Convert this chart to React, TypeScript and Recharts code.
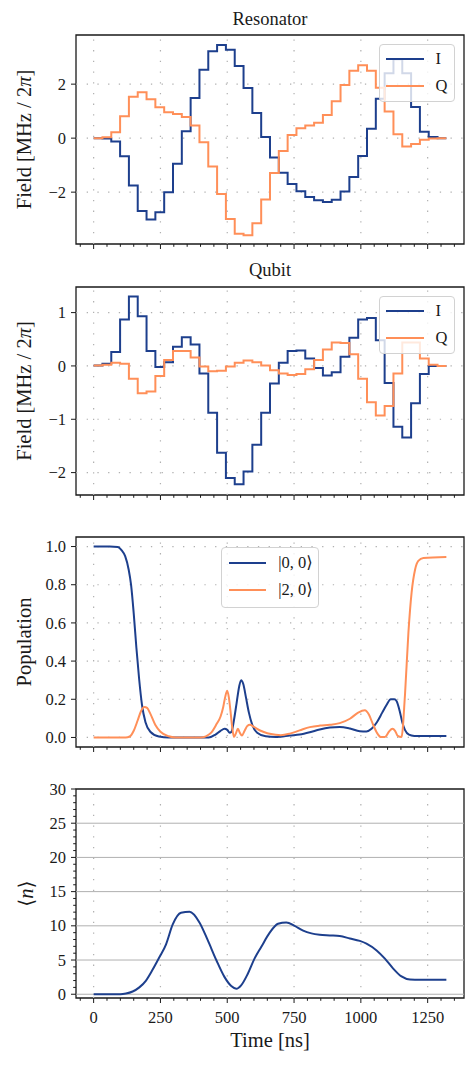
import React from 'react';
import { LineChart, Line, XAxis, YAxis, ReferenceLine, ReferenceArea, Legend } from 'recharts';

const SERIF = '"Liberation Serif", "DejaVu Serif", serif';
const BLUE = '#1d3f8d';
const ORANGE = '#ff8f58';
const INK = '#1a1a1a';
const GRID = '#b0b0b0';

// pulse is 40 constant slices, 33 ns each
const SLICE_START_NS = [
  0, 33, 66, 99, 132, 165, 198, 231, 264, 297, 330, 363, 396, 429, 462, 495, 528, 561, 594, 627,
  660, 693, 726, 759, 792, 825, 858, 891, 924, 957, 990, 1023, 1056, 1089, 1122, 1155, 1188, 1221, 1254, 1287,
];
const PULSE_END_NS = 1320;

const RES_I = [
  0, -0.01, -0.12, -0.67, -1.75, -2.7, -3.01, -2.74, -2.0, -0.95, 0.26, 1.49, 2.53, 3.22, 3.45, 3.27, 2.67, 1.86, 0.93, 0.04,
  -0.72, -1.28, -1.7, -1.97, -2.18, -2.3, -2.36, -2.28, -1.98, -1.44, -0.66, 0.35, 1.46, 2.4, 2.92, 2.4, 1.15, 0.24, 0.04, 0,
];
const RES_Q = [
  0, 0.03, 0.22, 0.81, 1.53, 1.7, 1.44, 1.14, 0.96, 0.89, 0.78, 0.47, -0.15, -1.05, -2.07, -2.99, -3.54, -3.6, -3.15, -2.27,
  -1.29, -0.48, 0.12, 0.37, 0.47, 0.57, 0.86, 1.37, 1.97, 2.5, 2.7, 2.5, 1.87, 0.99, 0.14, -0.31, -0.22, -0.06, -0.01, 0,
];
const QUB_I = [
  0.01, 0.04, 0.26, 0.87, 1.3, 0.93, 0.28, -0.02, 0.07, 0.36, 0.54, 0.4, -0.14, -0.88, -1.63, -2.1, -2.22, -1.98, -1.48, -0.88,
  -0.33, 0.06, 0.28, 0.29, 0.14, -0.04, -0.18, -0.12, 0.17, 0.53, 0.87, 0.9, 0.48, -0.32, -1.14, -1.34, -0.7, -0.15, 0, 0,
];
const QUB_Q = [
  0.01, 0.02, 0.06, 0.04, -0.24, -0.51, -0.48, -0.19, 0.11, 0.28, 0.28, 0.16, -0.01, -0.1, -0.09, -0.01, 0.06, 0.1, 0.07, 0.01,
  -0.08, -0.14, -0.17, -0.15, -0.06, 0.11, 0.31, 0.44, 0.43, 0.22, -0.24, -0.68, -0.93, -0.75, -0.14, 0.44, 0.44, 0.14, 0.02, 0,
];

const POP00_T = [
  0, 60, 90, 105, 118, 131, 140, 150, 160, 170, 181, 194, 212, 244, 281, 431, 456, 475, 490, 500,
  509, 516, 525, 535, 545, 552, 560, 570, 581, 594, 612, 644, 681, 700, 734, 771, 809, 846, 884, 921,
  959, 996, 1021, 1040, 1060, 1080, 1096, 1112, 1125, 1134, 1145, 1155, 1165, 1180, 1200, 1234, 1320,
];
const POP00_V = [
  1.0, 1.0, 0.998, 0.98, 0.95, 0.88, 0.8, 0.65, 0.47, 0.31, 0.17, 0.08, 0.03, 0.005, 0, 0, 0.015, 0.035, 0.045, 0.04,
  0.025, 0.03, 0.09, 0.18, 0.27, 0.3, 0.28, 0.21, 0.13, 0.065, 0.025, 0.006, 0.002, 0.004, 0.01, 0.015, 0.027, 0.042, 0.052, 0.055,
  0.047, 0.033, 0.031, 0.045, 0.08, 0.13, 0.17, 0.2, 0.2, 0.19, 0.14, 0.08, 0.04, 0.015, 0.008, 0.007, 0.007,
];
const POP20_T = [
  0, 120, 135, 150, 165, 178, 190, 200, 212, 231, 250, 281, 306, 400, 420, 440, 460, 475, 485, 492,
  500, 506, 512, 518, 525, 532, 540, 547, 555, 565, 575, 585, 600, 625, 650, 681, 700, 734, 771, 809,
  846, 884, 921, 959, 990, 1015, 1030, 1045, 1060, 1075, 1090, 1105, 1118, 1128, 1138, 1152, 1165, 1178, 1190, 1203,
  1215, 1234, 1320,
];
const POP20_V = [
  0, 0, 0.005, 0.035, 0.09, 0.14, 0.16, 0.155, 0.125, 0.065, 0.03, 0.006, 0, 0, 0.006, 0.025, 0.07, 0.11, 0.16, 0.21,
  0.245, 0.21, 0.14, 0.06, 0.003, 0.02, 0.045, 0.025, 0.01, 0.035, 0.06, 0.066, 0.055, 0.035, 0.022, 0.014, 0.012, 0.02, 0.037, 0.054,
  0.062, 0.066, 0.075, 0.098, 0.13, 0.142, 0.12, 0.07, 0.025, 0.002, 0.002, 0.03, 0.045, 0.035, 0.008, 0.002, 0.22, 0.55, 0.76, 0.88,
  0.925, 0.94, 0.945,
];

const NBAR_T = [
  0, 100, 121, 146, 171, 196, 221, 246, 271, 296, 327, 359, 396, 427, 459, 490, 515, 534, 552, 577,
  602, 627, 659, 690, 721, 752, 784, 815, 846, 884, 921, 959, 996, 1021, 1059, 1090, 1121, 1152, 1184, 1221, 1320,
];
const NBAR_V = [
  0, 0, 0.1, 0.4, 1.0, 2.0, 3.6, 5.4, 7.3, 10.2, 11.9, 12.05, 10.5, 7.9, 5.0, 2.5, 1.2, 0.8, 1.3, 3.0,
  5.2, 6.9, 9.0, 10.3, 10.5, 10.0, 9.3, 8.9, 8.7, 8.6, 8.5, 8.15, 7.8, 7.4, 6.4, 5.2, 3.75, 2.6, 2.15, 2.1, 2.1,
];

const TIME_DOMAIN = [-66, 1386];
const TIME_MAJOR = [0, 250, 500, 750, 1000, 1250];
const TIME_TICKS = [
  -50, 0, 50, 100, 150, 200, 250, 300, 350, 400, 450, 500, 550, 600, 650, 700, 750, 800, 850, 900,
  950, 1000, 1050, 1100, 1150, 1200, 1250, 1300, 1350,
];
const RES_TICKS = [-2, 0, 2];
const QUB_TICKS = [-2, -1, 0, 1];
const POP_TICKS = [0, 0.2, 0.4, 0.6, 0.8, 1.0];
const NBAR_MAJOR = [0, 5, 10, 15, 20, 25, 30];
const NBAR_TICKS = [
  0, 1, 2, 3, 4, 5, 6, 7, 8, 9, 10, 11, 12, 13, 14, 15, 16, 17, 18, 19, 20, 21, 22, 23, 24, 25, 26, 27, 28, 29, 30,
];

const stepRows = (i: number[], q: number[]) => [
  ...SLICE_START_NS.map((t, k) => ({ t, I: i[k], Q: q[k] })),
  { t: PULSE_END_NS, I: i[i.length - 1], Q: q[q.length - 1] },
];
const curveRows = (ts: number[], vs: number[]) => ts.map((t, k) => ({ t, v: vs[k] }));

const signed = (v: number) => (v < 0 ? `\u2212${Math.abs(v)}` : `${v}`);

const TimeTick = (props: any) => {
  const { x, y, payload, showLabel } = props;
  const major = TIME_MAJOR.includes(payload.value);
  return (
    <g>
      <line x1={x} x2={x} y1={y} y2={y + (major ? 5 : 2.8)} stroke={INK} strokeWidth={1} />
      {showLabel && major && (
        <text x={x} y={y + 25} textAnchor="middle" fontFamily={SERIF} fontSize={16.5} fill={INK}>
          {payload.value}
        </text>
      )}
    </g>
  );
};

const ValueTick = (props: any) => {
  const { x, y, payload, major, fmt } = props;
  const isMajor = major.includes(payload.value);
  return (
    <g>
      <line x1={x} x2={x - (isMajor ? 5 : 2.8)} y1={y} y2={y} stroke={INK} strokeWidth={1} />
      {isMajor && (
        <text x={x - 10} y={y} dy="0.34em" textAnchor="end" fontFamily={SERIF} fontSize={16.5} fill={INK}>
          {fmt(payload.value)}
        </text>
      )}
    </g>
  );
};

const YTitle = (props: any) => {
  const { viewBox, baseX, node } = props;
  const cy = viewBox.y + viewBox.height / 2;
  return (
    <text
      x={baseX}
      y={cy}
      transform={`rotate(-90 ${baseX} ${cy})`}
      textAnchor="middle"
      fontFamily={SERIF}
      fontSize={20.5}
      fill={INK}
    >
      {node}
    </text>
  );
};

const XTitle = (props: any) => {
  const { viewBox } = props;
  return (
    <text
      x={viewBox.x + viewBox.width / 2}
      y={viewBox.y + 49}
      textAnchor="middle"
      fontFamily={SERIF}
      fontSize={20.5}
      fill={INK}
    >
      Time [ns]
    </text>
  );
};

const LegendBox = (props: any) => {
  const { payload, w, h, lineLeft, lineLen, textLeft, rowTop, rowGap } = props;
  return (
    <div
      style={{
        position: 'relative',
        width: w,
        height: h,
        boxSizing: 'border-box',
        background: 'rgba(255,255,255,0.8)',
        border: '1px solid #d2d2d2',
        borderRadius: 4,
      }}
    >
      {(payload || []).map((p: any, i: number) => {
        const cy = rowTop + i * rowGap;
        return (
          <React.Fragment key={i}>
            <div style={{ position: 'absolute', left: lineLeft, top: cy - 1, width: lineLen, height: 2, background: p.color }} />
            <div
              style={{
                position: 'absolute',
                left: textLeft,
                top: cy - 10,
                height: 20,
                lineHeight: '20px',
                fontFamily: SERIF,
                fontSize: 16.5,
                color: INK,
                whiteSpace: 'nowrap',
              }}
            >
              {p.value}
            </div>
          </React.Fragment>
        );
      })}
    </div>
  );
};

const Title = ({ text, baseline }: { text: string; baseline: number }) => (
  <div
    style={{
      position: 'absolute',
      left: 76,
      width: 388,
      top: baseline - 15.5,
      textAlign: 'center',
      fontFamily: SERIF,
      fontSize: 18.5,
      lineHeight: '18.5px',
      color: INK,
    }}
  >
    {text}
  </div>
);

type PanelProps = {
  plotTop: number;
  plotH: number;
  xAxisH: number;
  data?: any[];
  yDomain: number[];
  yTicks: number[];
  yMajor: number[];
  yFmt: (v: number) => string;
  solidRows?: boolean;
  timeLabels?: boolean;
  yTitle: React.ReactNode;
  yTitleX: number;
  legend?: any;
  children: React.ReactNode;
};

const Panel = (p: PanelProps) => {
  const gridY = p.yMajor.filter((v) => v > p.yDomain[0] && v < p.yDomain[1]);
  return (
    <div style={{ position: 'absolute', left: 0, top: p.plotTop - 30 }}>
      <LineChart
        width={476}
        height={30 + p.plotH + p.xAxisH}
        data={p.data}
        margin={{ top: 30, right: 12, bottom: 0, left: 16 }}
      >
        <XAxis
          dataKey="t"
          type="number"
          domain={TIME_DOMAIN}
          allowDataOverflow
          ticks={TIME_TICKS}
          interval={0}
          tickSize={0}
          tickMargin={0}
          axisLine={false}
          tickLine={false}
          height={p.xAxisH}
          tick={<TimeTick showLabel={p.timeLabels} />}
          label={p.timeLabels ? <XTitle /> : undefined}
        />
        <YAxis
          type="number"
          domain={p.yDomain}
          allowDataOverflow
          ticks={p.yTicks}
          interval={0}
          tickSize={0}
          tickMargin={0}
          axisLine={false}
          tickLine={false}
          width={60}
          tick={<ValueTick major={p.yMajor} fmt={p.yFmt} />}
          label={<YTitle baseX={p.yTitleX} node={p.yTitle} />}
        />
        {TIME_MAJOR.map((v) => (
          <ReferenceLine key={`gx${v}`} x={v} stroke={GRID} strokeWidth={1.2} strokeDasharray="1.3 9.4" />
        ))}
        {gridY.map((v) =>
          p.solidRows ? (
            <ReferenceLine key={`gy${v}`} y={v} stroke={GRID} strokeWidth={1} />
          ) : (
            <ReferenceLine key={`gy${v}`} y={v} stroke={GRID} strokeWidth={1.2} strokeDasharray="1.3 9.4" />
          ),
        )}
        {p.children}
        <ReferenceArea
          x1={TIME_DOMAIN[0]}
          x2={TIME_DOMAIN[1]}
          y1={p.yDomain[0]}
          y2={p.yDomain[1]}
          fill="none"
          stroke={INK}
          strokeWidth={1.3}
          ifOverflow="visible"
        />
        {p.legend && (
          <Legend
            layout="horizontal"
            align="center"
            verticalAlign="middle"
            wrapperStyle={{ position: 'absolute', left: p.legend.left, top: p.legend.top, width: p.legend.w, height: p.legend.h }}
            content={<LegendBox {...p.legend} />}
          />
        )}
      </LineChart>
    </div>
  );
};

const fieldTitle = (
  <>
    <tspan>Field [MHz / 2</tspan>
    <tspan fontStyle="italic">{'\u03c0'}</tspan>
    <tspan>]</tspan>
  </>
);

const iqLegend = { left: 379, top: 38.5, w: 76, h: 58, lineLeft: 6, lineLen: 38, textLeft: 55.5, rowTop: 14.3, rowGap: 26.7 };
const popLegend = { left: 220.7, top: 39.5, w: 98.3, h: 61.6, lineLeft: 7, lineLen: 37.3, textLeft: 56.5, rowTop: 15, rowGap: 27.3 };

export default function App() {
  const resRows = stepRows(RES_I, RES_Q);
  const qubRows = stepRows(QUB_I, QUB_Q);
  const pop00 = curveRows(POP00_T, POP00_V);
  const pop20 = curveRows(POP20_T, POP20_V);
  const nbar = curveRows(NBAR_T, NBAR_V);

  return (
    <div style={{ position: 'absolute', left: 0, top: 0, width: 476, height: 1065, background: '#fff' }}>
      <Title text="Resonator" baseline={25} />
      <Title text="Qubit" baseline={276.5} />

      <Panel
        plotTop={35}
        plotH={209}
        xAxisH={10}
        data={resRows}
        yDomain={[-3.92, 3.82]}
        yTicks={RES_TICKS}
        yMajor={RES_TICKS}
        yFmt={signed}
        yTitle={fieldTitle}
        yTitleX={31}
        legend={iqLegend}
      >
        <Line dataKey="I" name="I" type="stepAfter" stroke={BLUE} strokeWidth={2} dot={false} isAnimationActive={false} />
        <Line dataKey="Q" name="Q" type="stepAfter" stroke={ORANGE} strokeWidth={2} dot={false} isAnimationActive={false} />
      </Panel>

      <Panel
        plotTop={287}
        plotH={208}
        xAxisH={10}
        data={qubRows}
        yDomain={[-2.42, 1.48]}
        yTicks={QUB_TICKS}
        yMajor={QUB_TICKS}
        yFmt={signed}
        yTitle={fieldTitle}
        yTitleX={31}
        legend={iqLegend}
      >
        <Line dataKey="I" name="I" type="stepAfter" stroke={BLUE} strokeWidth={2} dot={false} isAnimationActive={false} />
        <Line dataKey="Q" name="Q" type="stepAfter" stroke={ORANGE} strokeWidth={2} dot={false} isAnimationActive={false} />
      </Panel>

      <Panel
        plotTop={537}
        plotH={210}
        xAxisH={10}
        yDomain={[-0.05, 1.05]}
        yTicks={POP_TICKS}
        yMajor={POP_TICKS}
        yFmt={(v) => v.toFixed(1)}
        yTitle="Population"
        yTitleX={31}
        legend={popLegend}
      >
        <Line data={pop00} dataKey="v" name={'|0, 0\u27e9'} type="monotone" stroke={BLUE} strokeWidth={2} dot={false} isAnimationActive={false} />
        <Line data={pop20} dataKey="v" name={'|2, 0\u27e9'} type="monotone" stroke={ORANGE} strokeWidth={2} dot={false} isAnimationActive={false} />
      </Panel>

      <Panel
        plotTop={789}
        plotH={209}
        xAxisH={60}
        yDomain={[-0.55, 30]}
        yTicks={NBAR_TICKS}
        yMajor={NBAR_MAJOR}
        yFmt={(v) => `${v}`}
        solidRows
        timeLabels
        yTitle={
          <>
            <tspan>{'\u27e8'}</tspan>
            <tspan fontStyle="italic">n</tspan>
            <tspan>{'\u27e9'}</tspan>
          </>
        }
        yTitleX={33}
      >
        <Line data={nbar} dataKey="v" name="n" type="monotone" stroke={BLUE} strokeWidth={2} dot={false} isAnimationActive={false} />
      </Panel>
    </div>
  );
}
